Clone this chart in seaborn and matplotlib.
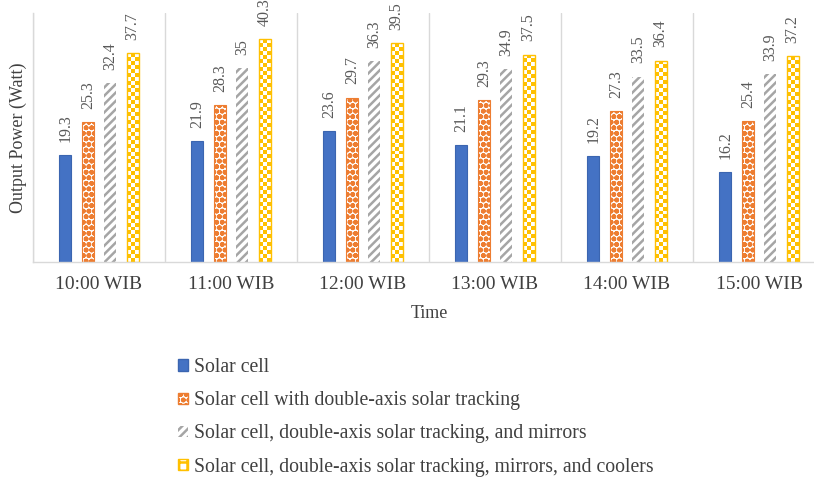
import numpy as np
import pandas as pd
import matplotlib.pyplot as plt
from matplotlib.colors import ListedColormap
from matplotlib.patches import Patch
import seaborn as sns

# ---------- data ----------
times = ["10:00 WIB", "11:00 WIB", "12:00 WIB", "13:00 WIB", "14:00 WIB", "15:00 WIB"]
series = [
    "Solar cell",
    "Solar cell with double-axis solar tracking",
    "Solar cell, double-axis solar tracking, and mirrors",
    "Solar cell, double-axis solar tracking, mirrors, and coolers",
]
solar_cell = [19.3, 21.9, 23.6, 21.1, 19.2, 16.2]
with_tracking = [25.3, 28.3, 29.7, 29.3, 27.3, 25.4]
with_mirrors = [32.4, 35, 36.3, 34.9, 33.5, 33.9]
with_coolers = [37.7, 40.3, 39.5, 37.5, 36.4, 37.2]
colors = ["#4472C4", "#ED7D31", "#A5A5A5", "#FFC000"]

rows = []
for name, vals in zip(series, [solar_cell, with_tracking, with_mirrors, with_coolers]):
    for t, v in zip(times, vals):
        rows.append({"Time": t, "Power": v, "Config": name})
df = pd.DataFrame(rows)

# ---------- style ----------
sns.set_style("white")
plt.rcParams["font.family"] = ["Liberation Serif", "DejaVu Serif"]
plt.rcParams["hatch.linewidth"] = 1.8
text_col = "#404040"
grid_col = "#D9D9D9"

fig = plt.figure(figsize=(8.14, 4.79), dpi=100)
ax = fig.add_axes([33 / 814, 1 - 262 / 479, 792 / 814, 249 / 479])

sns.barplot(data=df, x="Time", y="Power", hue="Config", hue_order=series,
            palette=colors, width=0.68, gap=0.47, ax=ax, legend=False)

ax.set_xlim(-0.5, len(times) - 0.5)
ax.set_ylim(0, 45)

# bar looks
blue, orange, gray, yellow = ax.containers
for p in blue:
    p.set_facecolor(colors[0])
    p.set_edgecolor("#3B65B0")
    p.set_linewidth(0.8)
for p in orange:
    p.set_facecolor("white")
    p.set_edgecolor(colors[1])
    p.set_hatch("ooo")
    p.set_linewidth(0.8)
for p in gray:
    p.set_facecolor("white")
    p.set_edgecolor(colors[2])
    p.set_hatch("////")
    p.set_linewidth(0)

# checkerboard for the yellow bars
checker_cmap = ListedColormap(["white", colors[3]])
for p in yellow:
    x0, y0, w, h = p.get_x(), p.get_y(), p.get_width(), p.get_height()
    px0 = ax.transData.transform((x0, y0))
    px1 = ax.transData.transform((x0 + w, y0 + h))
    ncols = 3
    cell = (px1[0] - px0[0]) / ncols
    nrows = max(1, int(round((px1[1] - px0[1]) / cell)))
    board = np.add.outer(np.arange(nrows), np.arange(ncols)) % 2
    im = ax.imshow(board, extent=(x0, x0 + w, y0, y0 + h), cmap=checker_cmap,
                   interpolation="nearest", aspect="auto", origin="upper",
                   zorder=p.get_zorder() - 0.05)
    im.set_clip_path(p)
    p.set_facecolor("none")
    p.set_edgecolor(colors[3])
    p.set_linewidth(1.0)

ax.set_xlim(-0.5, len(times) - 0.5)
ax.set_ylim(0, 45)

# value labels (allowed to run above the plot area, like the original)
for c in ax.containers:
    ax.bar_label(c, fmt="{:g}", rotation=90, padding=9.5, fontsize=11.5,
                 color="#595959", clip_on=False)

# axes cosmetics
ax.set_yticks([])
ax.set_xticks(np.arange(-0.5, len(times)), minor=True)
ax.set_axisbelow(True)
ax.grid(which="minor", axis="x", color=grid_col, linewidth=1)
ax.grid(which="major", visible=False)
ax.tick_params(axis="x", which="both", length=0, pad=10, labelsize=14,
               labelcolor=text_col)
for s in ["top", "right"]:
    ax.spines[s].set_visible(False)
for s in ["left", "bottom"]:
    ax.spines[s].set_color(grid_col)
    ax.spines[s].set_linewidth(1)

ax.set_xlabel("Time", fontsize=13, color=text_col, labelpad=9)
ax.set_ylabel("Output Power (Watt)", fontsize=13, color=text_col, labelpad=4)

# legend
handles = [
    Patch(facecolor=colors[0], edgecolor="#3B65B0"),
    Patch(facecolor="white", edgecolor=colors[1], hatch="ooo"),
    Patch(facecolor="white", edgecolor=colors[2], hatch="////", linewidth=0),
    Patch(facecolor="white", edgecolor=colors[3], hatch="++"),
]
leg = fig.legend(handles, series, loc="upper left",
                 bbox_to_anchor=(178 / 814, 1 - 358 / 479), frameon=False,
                 fontsize=14.2, labelspacing=0.72, handlelength=0.5,
                 handleheight=0.5, handletextpad=0.3, borderpad=0,
                 borderaxespad=0)
for t in leg.get_texts():
    t.set_color(text_col)

fig.savefig("out.png", dpi=100)
